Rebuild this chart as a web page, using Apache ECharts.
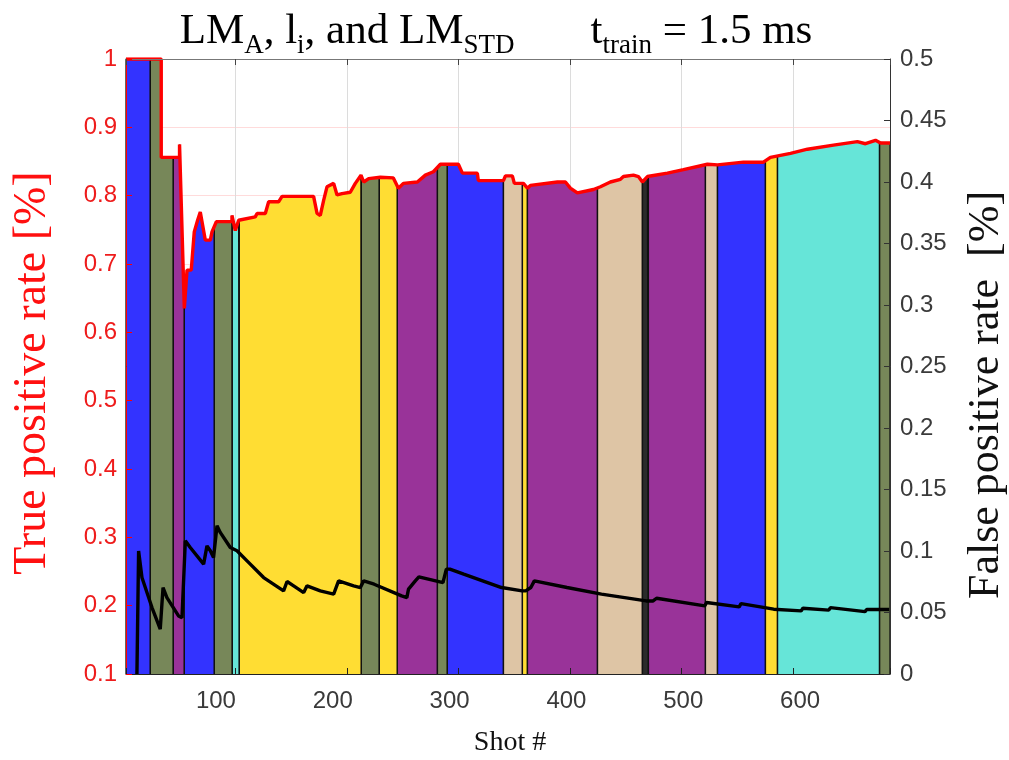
<!DOCTYPE html>
<html><head><meta charset="utf-8">
<script src="https://cdn.jsdelivr.net/npm/echarts@6/dist/echarts.min.js"></script>
<style>html,body{margin:0;padding:0;background:#fff}#c{width:1009px;height:760px}</style>
</head><body><div id="c"></div>
<script>
// ---- data ----
const tprShot = [2, 33.6, 33.6, 50, 50, 54.3, 56.7, 60.5, 63.2, 66.2, 68.6, 70.1, 73.1, 77.6, 79.1, 83, 97, 97, 100, 103, 117.9, 119.5, 126.9, 129.9, 138.8, 141.9, 170.2, 173.3, 176.2, 179.2, 182.2, 188.2, 191.2, 195.7, 203.1, 207.6, 212.7, 215.1, 219.6, 230, 241.7, 246.2, 250.7, 263.2, 270.4, 277.6, 283.9, 300, 303.6, 317, 317.9, 340.4, 342.2, 348.4, 350.2, 358.3, 361.9, 364.6, 388.8, 396, 400.4, 406.7, 421.1, 427.4, 436.3, 445.3, 448, 457, 461.4, 465, 469.5, 487.4, 501.8, 523.3, 532.3, 555.6, 573.5, 579.8, 597.8, 613, 636.3, 657.8, 665, 674, 678.5, 687];
const tprRate = [1, 1, 0.856, 0.856, 0.875, 0.635, 0.691, 0.691, 0.747, 0.764, 0.776, 0.776, 0.735, 0.735, 0.747, 0.762, 0.762, 0.771, 0.749, 0.764, 0.769, 0.774, 0.774, 0.791, 0.791, 0.799, 0.799, 0.774, 0.771, 0.793, 0.813, 0.818, 0.801, 0.803, 0.805, 0.818, 0.830, 0.820, 0.825, 0.827, 0.826, 0.811, 0.818, 0.820, 0.830, 0.835, 0.846, 0.846, 0.833, 0.833, 0.822, 0.822, 0.829, 0.829, 0.818, 0.818, 0.811, 0.815, 0.820, 0.820, 0.811, 0.804, 0.809, 0.813, 0.820, 0.824, 0.828, 0.830, 0.828, 0.820, 0.828, 0.833, 0.838, 0.846, 0.845, 0.849, 0.849, 0.856, 0.862, 0.868, 0.874, 0.879, 0.876, 0.881, 0.877, 0.877];
const fprShot = [11.8, 13.3, 16.3, 25.3, 32.7, 35.2, 38.7, 49.1, 52.2, 55.2, 59.6, 71.6, 74.6, 77.6, 80.5, 83.6, 86.5, 95.5, 101.5, 110.5, 125.4, 143.3, 146.4, 152.3, 161.3, 164.3, 176.2, 188.2, 192.6, 206.1, 212.1, 215.1, 224.5, 249.1, 253.8, 255.3, 261.4, 264.6, 286.2, 289.2, 292.4, 304.8, 338.7, 357.2, 360.4, 365, 368.1, 397.4, 428.3, 468.4, 474.6, 477.7, 521, 522.5, 551.8, 553.4, 582.7, 607.4, 608.9, 632.1, 633.6, 664.6, 666.1, 686.2];
const fprRate = [0, 0.100, 0.0784, 0.054, 0.0364, 0.0703, 0.0621, 0.0472, 0.0458, 0.1083, 0.1028, 0.0893, 0.1042, 0.1002, 0.0947, 0.1205, 0.1151, 0.1028, 0.1002, 0.092, 0.0784, 0.0676, 0.0752, 0.0717, 0.0662, 0.0717, 0.0676, 0.0649, 0.0757, 0.0717, 0.0703, 0.0757, 0.073, 0.0635, 0.0621, 0.069, 0.0757, 0.079, 0.0743, 0.0853, 0.0853, 0.0812, 0.0703, 0.0676, 0.0676, 0.0703, 0.0757, 0.0703, 0.0649, 0.0594, 0.0594, 0.0616, 0.0554, 0.0581, 0.0546, 0.0572, 0.0527, 0.0513, 0.0535, 0.0519, 0.054, 0.0507, 0.0524, 0.0524];
const bandEdges = [2, 23.8, 44.4, 54.3, 81.2, 97.3, 103.6, 213, 229.1, 245.3, 281.2, 290.1, 340.4, 357.4, 361.9, 424.7, 465, 470.4, 521.5, 532.3, 575.3, 586.1, 677.6, 687];
const bandGroup = ['blue','olive','purple','blue','olive','cyan','yellow','olive','yellow','purple','olive','blue','tan','yellow','purple','tan','dark','purple','tan','blue','yellow','cyan','olive'];
const xMin = 2, xMax = 687;

// ---- styles ----
const palette = {blue:'#3333ff', olive:'#778759', purple:'#993399', cyan:'#66e5d8', yellow:'#ffdd33', tan:'#dec5a5', dark:'#2b2b2b'};
const sans = 'Liberation Sans', serif = 'Liberation Serif';

function tprAt(x){
  for (let j = 0; j < tprShot.length - 1; j++) {
    if (x >= tprShot[j] && x <= tprShot[j+1]) {
      const d = tprShot[j+1] - tprShot[j];
      if (d === 0) return tprRate[j];
      return tprRate[j] + (tprRate[j+1] - tprRate[j]) * (x - tprShot[j]) / d;
    }
  }
  return tprRate[tprRate.length - 1];
}

const series = [];
for (let i = 0; i < bandGroup.length; i++) {
  const x0 = bandEdges[i], x1 = bandEdges[i+1];
  const pts = [[x0, 0.1], [x0, tprAt(x0)]];
  for (let j = 0; j < tprShot.length; j++) if (tprShot[j] > x0 && tprShot[j] < x1) pts.push([tprShot[j], tprRate[j]]);
  pts.push([x1, tprAt(x1)], [x1, 0.1]);
  series.push({type:'line', xAxisIndex:0, yAxisIndex:0, data:pts, symbol:'none', silent:true, z:2,
    lineStyle:{color:'#111', width:1.3}, areaStyle:{color:palette[bandGroup[i]], opacity:1, origin:'start'}});
}
series.push({type:'line', xAxisIndex:0, yAxisIndex:0, data:tprShot.map((x,i)=>[x,tprRate[i]]), symbol:'none', z:5,
  lineStyle:{color:'#ff0000', width:3.4}});
series.push({type:'line', xAxisIndex:0, yAxisIndex:1, data:fprShot.map((x,i)=>[x,fprRate[i]]), symbol:'none', z:6,
  lineStyle:{color:'#000', width:3.4}});

const G = {left:126, right:119, top:59, bottom:86};
const option = {
  animation:false,
  backgroundColor:'#fff',
  title:{left:491, top:-1, textAlign:'center',
    text:'{n|LM}{s|A}{n|, l}{s|i}{n|, and LM}{s|STD}{g| }{n|t}{s|train}{n| = 1.5 ms}',
    textStyle:{fontWeight:'normal', rich:{
      n:{fontFamily:serif, fontSize:43, fontWeight:'normal', color:'#000', lineHeight:55, verticalAlign:'middle'},
      s:{fontFamily:serif, fontSize:27, fontWeight:'normal', color:'#000', lineHeight:55, verticalAlign:'bottom'},
      g:{width:76, fontSize:20, lineHeight:55}
    }}},
  grid:[Object.assign({}, G), Object.assign({}, G)],
  xAxis:[
    {gridIndex:0, type:'value', min:xMin, max:xMax, position:'bottom', z:10,
      axisLine:{show:true, lineStyle:{color:'#222', width:1}}, axisTick:{show:true, inside:true, length:6, lineStyle:{color:'#222'}},
      axisLabel:{show:false}, splitLine:{show:false}},
    {gridIndex:0, type:'value', min:xMin, max:xMax, position:'top', z:10,
      axisLine:{show:true, lineStyle:{color:'#777', width:1}}, axisTick:{show:true, inside:true, length:6, lineStyle:{color:'#444'}},
      axisLabel:{show:false}, splitLine:{show:false}},
    {gridIndex:1, type:'value', min:xMin, max:xMax, position:'top',
      axisLine:{show:false}, axisTick:{show:false}, axisLabel:{show:false},
      splitLine:{show:true, lineStyle:{color:'#dcdcdc', width:1}}},
    {gridIndex:1, type:'value', min:23, max:677, position:'bottom',
      axisLine:{show:false}, axisTick:{show:false}, splitLine:{show:false},
      axisLabel:{margin:15, fontFamily:sans, fontSize:24, color:'#3a3a3a', formatter:v => (Math.abs(v % 100) < 1e-6 ? String(Math.round(v)) : '')}}
  ],
  yAxis:[
    {gridIndex:0, type:'value', min:0.1, max:1, interval:0.1, position:'left', z:10,
      axisLine:{show:true, lineStyle:{color:'#ff0000', width:1}}, axisTick:{show:true, inside:true, length:6, lineStyle:{color:'#ff0000'}},
      axisLabel:{margin:9, fontFamily:sans, fontSize:24, color:'#ee1c1c', formatter:v => String(parseFloat(v.toFixed(2)))},
      splitLine:{show:false}},
    {gridIndex:0, type:'value', min:0, max:0.5, interval:0.05, position:'right', z:10,
      axisLine:{show:true, lineStyle:{color:'#333', width:1}}, axisTick:{show:true, inside:true, length:6, lineStyle:{color:'#333'}},
      axisLabel:{margin:10, fontFamily:sans, fontSize:24, color:'#3a3a3a', formatter:v => String(parseFloat(v.toFixed(3)))},
      splitLine:{show:false}},
    {gridIndex:1, type:'value', min:0.1, max:1, interval:0.1, position:'left',
      axisLine:{show:false}, axisTick:{show:false}, axisLabel:{show:false},
      splitLine:{show:true, lineStyle:{color:'rgba(255,0,0,0.14)', width:1}}}
  ],
  graphic:[
    {type:'text', x:33, y:373, rotation:Math.PI/2, z:20,
      style:{text:'True positive rate [%]', fill:'#ff1010', font:'46px "Liberation Serif"', textAlign:'center', textVerticalAlign:'middle', align:'center', verticalAlign:'middle'}},
    {type:'text', x:986, y:395, rotation:Math.PI/2, z:20,
      style:{text:'False positive rate  [%]', fill:'#111', font:'44px "Liberation Serif"', textAlign:'center', textVerticalAlign:'middle', align:'center', verticalAlign:'middle'}},
    {type:'text', x:510, y:743, z:20,
      style:{text:'Shot #', fill:'#111', font:'28px "Liberation Serif"', textAlign:'center', textVerticalAlign:'middle', align:'center', verticalAlign:'middle'}}
  ],
  series:series
};
const chart = echarts.init(document.getElementById('c'), null, {renderer:'canvas'});
chart.setOption(option);
</script>
</body></html>
